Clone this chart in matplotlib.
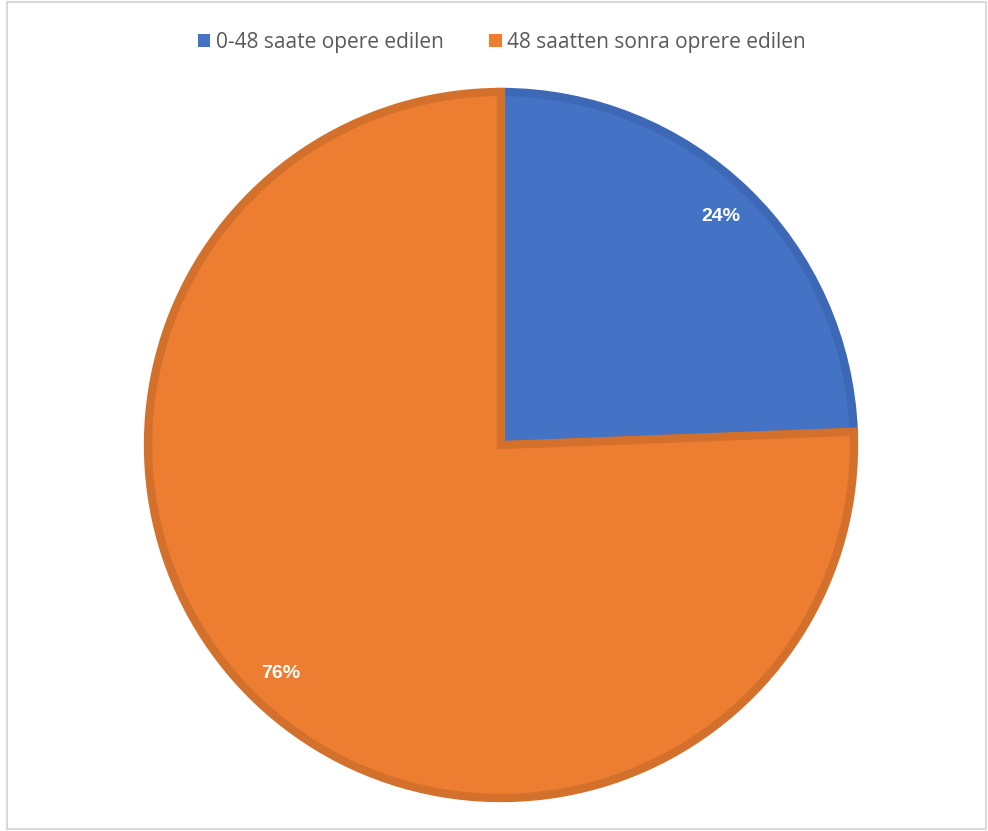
import matplotlib.pyplot as plt
from matplotlib.patches import Patch, Rectangle

# dane
labels = ["0-48 saate opere edilen", "48 saatten sonra oprere edilen"]
values = [24.4, 75.6]
colors = ["#4472C4", "#ED7D31"]
edges = ["#3D68B5", "#D3702C"]

plt.rcParams['font.family'] = ['Open Sans', 'DejaVu Sans']

fig = plt.figure(figsize=(9.88, 8.31), dpi=100)
ax = fig.add_axes([0, 0, 1, 1])

wedges, texts, autotexts = ax.pie(values, colors=colors, startangle=90, counterclock=False,
                                  center=(501, 386), radius=353, autopct='%1.0f%%', pctdistance=0.9,
                                  textprops=dict(color='white'))
for w, ec in zip(wedges, edges):
    w.set_edgecolor(ec)
    w.set_linewidth(6)
    w.set_joinstyle('miter')
for t in autotexts:
    t.set_family('Liberation Sans')
    t.set_weight('bold')
    t.set_size(14)

# pie() ustawia własne limity, więc nadpisujemy je po rysowaniu
ax.set_xlim(0, 988)
ax.set_ylim(0, 831)
ax.set_aspect('equal')
ax.axis('off')

# ramka wykresu
fig.patches.append(Rectangle((7 / 988, 2 / 831), 979 / 988, 827 / 831, transform=fig.transFigure,
                             fill=False, edgecolor="#D9D9D9", linewidth=1.5))

handles = [Patch(facecolor=c, edgecolor='none') for c in colors]
fig.legend(handles, labels, loc='center', bbox_to_anchor=(0.508, 0.949), ncol=2, frameon=False,
           fontsize=15, handlelength=0.6, handleheight=0.6, handletextpad=0.25, columnspacing=2.2,
           labelcolor="#595959")

fig.savefig("out.png", dpi=100)
